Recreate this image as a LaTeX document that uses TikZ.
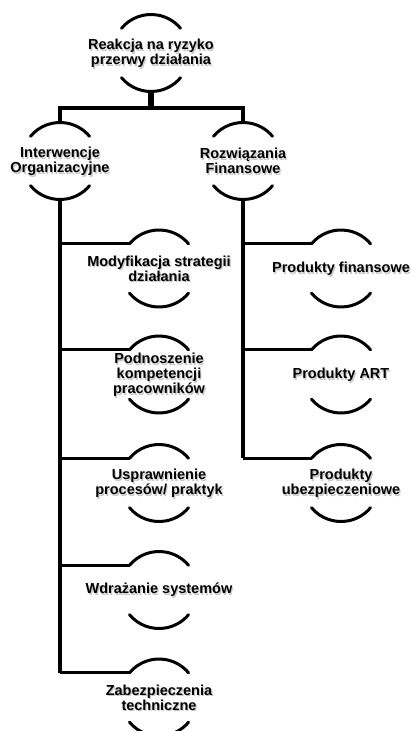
\documentclass[tikz,border=0pt]{standalone}
\usepackage{fontspec}
\setmainfont{Liberation Sans}
\tikzset{
  bub/.style={circle,minimum size=77pt,inner sep=0pt,outer sep=0pt,
    label={[bubtext,text=black!22,xshift=1.2pt,yshift=-1.8pt]center:{#1}},
    label={[bubtext]center:{#1}}},
  bubtext/.style={font=\bfseries\fontsize{14.5}{15}\selectfont,align=center,inner sep=0pt},
  link/.style={line width=3.4pt},
  half/.style={line width=3pt,line cap=round}
}
\begin{document}
\begin{tikzpicture}[x=1pt,y=1pt]
  \useasboundingbox (0,0) rectangle (412,-731);
  \node[bub={Reakcja na ryzyko\\przerwy działania}] (top) at (151,-53) {};
  \node[bub={Interwencje\\Organizacyjne}] (io) at (60,-161) {};
  \node[bub={Rozwiązania\\Finansowe}] (rf) at (243,-161) {};
  \node[bub={Modyfikacja strategii\\działania}] (mod) at (159,-268.5) {};
  \node[bub={Podnoszenie\\kompetencji\\pracowników}] (pod) at (159,-374.5) {};
  \node[bub={Usprawnienie\\procesów/ praktyk}] (usp) at (159,-483) {};
  \node[bub={Wdrażanie systemów}] (wdr) at (159,-590) {};
  \node[bub={Zabezpieczenia\\techniczne}] (zab) at (159,-697.5) {};
  \node[bub={Produkty finansowe}] (fin) at (341,-268.5) {};
  \node[bub={Produkty ART}] (art) at (341,-374.5) {};
  \node[bub={Produkty\\ubezpieczeniowe}] (ube) at (341,-483) {};
  \foreach \n in {top,io,rf,mod,pod,usp,wdr,zab,fin,art,ube}{
    \draw[half] (\n.140) arc[start angle=140,end angle=40,radius=38.5pt];
    \draw[half] (\n.220) arc[start angle=220,end angle=320,radius=38.5pt];
  }
  \coordinate (bus) at (151,-108);
  \draw[line width=5.5pt] (top.south) -- (bus);
  \draw[link] (io.north) |- (bus) -| (rf.north);
  \draw[link] (io.south) -- (io.south |- zab.140);
  \foreach \n in {mod,pod,usp,wdr,zab}
    \draw[link] (io.south |- \n.140) -- (\n.140);
  \draw[link] (rf.south) -- (rf.south |- ube.140);
  \foreach \n in {fin,art,ube}
    \draw[link] (rf.south |- \n.140) -- (\n.140);
\end{tikzpicture}
\end{document}
